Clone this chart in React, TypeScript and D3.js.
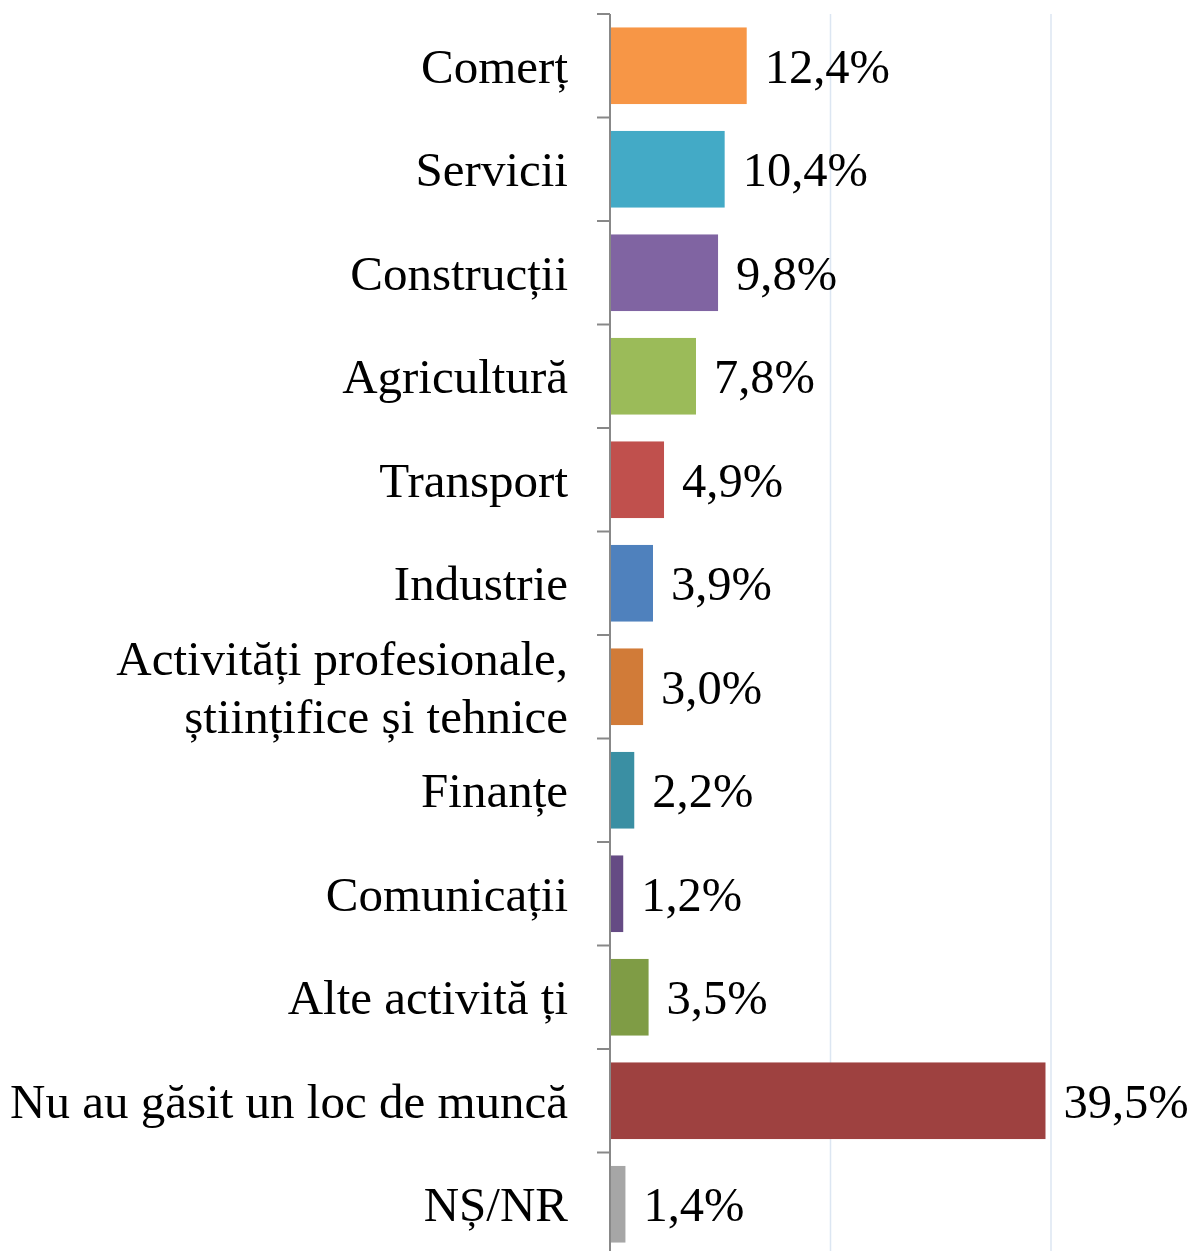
import React from "react";
import * as d3 from "d3";

// categories and values (%)
const categories = [
  "Comerț",
  "Servicii",
  "Construcții",
  "Agricultură",
  "Transport",
  "Industrie",
  "Activități profesionale,|științifice și tehnice",
  "Finanțe",
  "Comunicații",
  "Alte activită ți",
  "Nu au găsit un loc de muncă",
  "NȘ/NR",
];
const values = [12.4, 10.4, 9.8, 7.8, 4.9, 3.9, 3.0, 2.2, 1.2, 3.5, 39.5, 1.4];
const colors = [
  "#F79646",
  "#43AAC6",
  "#8064A2",
  "#9BBB59",
  "#C0504D",
  "#4F81BD",
  "#D17B38",
  "#3A8FA3",
  "#654B84",
  "#7F9C45",
  "#9E4140",
  "#A6A6A6",
];
const gridTicks = [20, 40];

const W = 1192;
const H = 1251;
const top = 14;
const bottom = 1256; // axis runs just past the picture edge
const x0 = 610;

const App = () => {
  const x = d3
    .scaleLinear()
    .domain([0, 40])
    .range([x0, x0 + 441]);

  const y = d3
    .scaleBand()
    .domain(categories)
    .range([top, bottom])
    .paddingInner(0.26)
    .paddingOuter(0.13);

  const step = y.step();
  const font = "'Liberation Serif', 'Times New Roman', serif";
  const fmt = (v: number) => v.toFixed(1).replace(".", ",") + "%";
  const labelX = 568;

  return (
    <svg
      width={W}
      height={H}
      style={{ position: "absolute", left: 0, top: 0, background: "#fff" }}
    >
      {gridTicks.map((t) => (
        <line
          key={t}
          x1={x(t)}
          x2={x(t)}
          y1={top}
          y2={bottom}
          stroke="#DCE6F2"
          strokeWidth={1.5}
        />
      ))}

      {categories.map((c, i) => {
        const yb = y(c)!;
        const cy = yb + y.bandwidth() / 2;
        const lines = c.split("|");
        return (
          <g key={c}>
            <rect
              x={x(0)}
              y={yb}
              width={x(values[i]) - x(0)}
              height={y.bandwidth()}
              fill={colors[i]}
            />
            <text
              x={x(values[i]) + 18}
              y={cy}
              dy="0.35em"
              fontFamily={font}
              fontSize={48.5}
              fill="#000"
            >
              {fmt(values[i])}
            </text>
            <text
              x={labelX}
              y={cy}
              textAnchor="end"
              fontFamily={font}
              fontSize={49}
              fill="#000"
            >
              {lines.map((l, k) => (
                <tspan
                  key={k}
                  x={labelX}
                  dy={k === 0 ? `${0.35 - (lines.length - 1) * 0.6}em` : "1.2em"}
                >
                  {l}
                </tspan>
              ))}
            </text>
          </g>
        );
      })}

      {/* category axis with tick marks between bands */}
      <line
        x1={x(0)}
        x2={x(0)}
        y1={top}
        y2={bottom}
        stroke="#888"
        strokeWidth={2}
      />
      {d3.range(categories.length + 1).map((k) => {
        const ty = top + k * step;
        return (
          <line
            key={k}
            x1={x(0) - 13}
            x2={x(0)}
            y1={ty}
            y2={ty}
            stroke="#888"
            strokeWidth={2}
          />
        );
      })}
    </svg>
  );
};

export default App;
